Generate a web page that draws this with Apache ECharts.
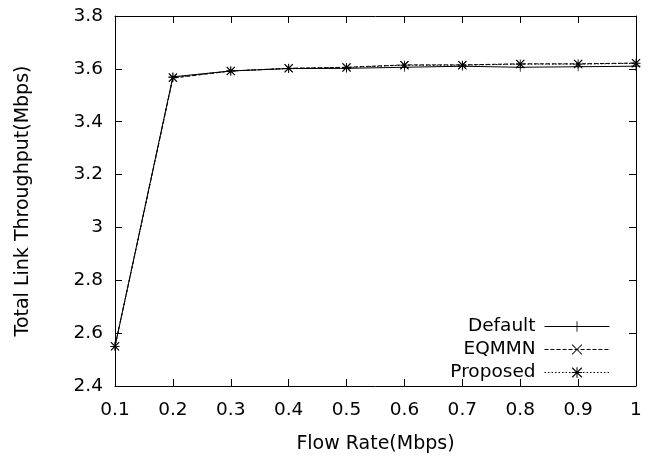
<!DOCTYPE html>
<html>
<head>
<meta charset="utf-8">
<script src="https://cdn.jsdelivr.net/npm/echarts@6/dist/echarts.min.js"></script>
<style>html,body{margin:0;padding:0;background:#fff}#c{width:655px;height:459px}</style>
</head>
<body>
<div id="c"></div>
<script>
var flowRates = [0.1, 0.2, 0.3, 0.4, 0.5, 0.6, 0.7, 0.8, 0.9, 1.0];
var defaultVals  = [2.55, 3.570, 3.592, 3.601, 3.602, 3.606, 3.610, 3.606, 3.608, 3.610];
var eqmmnVals    = [2.55, 3.565, 3.592, 3.602, 3.606, 3.615, 3.615, 3.619, 3.619, 3.622];
var proposedVals = [2.55, 3.567, 3.592, 3.602, 3.605, 3.614, 3.614, 3.618, 3.618, 3.621];

var FONT = 'DejaVu Sans, Liberation Sans, Arial, sans-serif';
var plusPath = 'path://M0,4.6H10V5.4H0Z M4.6,0H5.4V10H4.6Z';
var crossPath = 'path://M0.6,0L5,4.4L9.4,0L10,0.6L5.6,5L10,9.4L9.4,10L5,5.6L0.6,10L0,9.4L4.4,5L0,0.6Z';
var starPath = 'path://M0,4.5H10V5.5H0Z M4.5,0H5.5V10H4.5Z M0.8,0L5,4.2L9.2,0L10,0.8L5.8,5L10,9.2L9.2,10L5,5.8L0.8,10L0,9.2L4.2,5L0,0.8Z';

function pairs(v){ return flowRates.map(function(x,i){ return [x, v[i]]; }); }

var chart = echarts.init(document.getElementById('c'), null, {renderer:'canvas'});
chart.setOption({
  animation: false,
  backgroundColor: '#fff',
  textStyle: {fontFamily: FONT},
  grid: {left: 115, right: 19, top: 16, bottom: 73},
  legend: {
    orient: 'vertical',
    right: 45,
    top: 317,
    padding: 0,
    align: 'right',
    itemWidth: 65,
    itemHeight: 13,
    itemGap: 4,
    lineStyle: {width: 1},
    textStyle: {fontFamily: FONT, fontSize: 18.5, color: '#000', padding: [0, 4, 0, 0]},
    data: ['Default', 'EQMMN', 'Proposed']
  },
  xAxis: [{
    type: 'value', min: 0.1, max: 1, interval: 0.1,
    name: 'Flow Rate(Mbps)', nameLocation: 'middle', nameGap: 49,
    nameTextStyle: {fontFamily: FONT, fontSize: 19, color: '#000'},
    axisLine: {lineStyle: {color: '#000', width: 1}},
    axisTick: {inside: true, length: 7, lineStyle: {color: '#000'}},
    axisLabel: {fontFamily: FONT, fontSize: 18.5, color: '#000', margin: 15,
      formatter: function(v){ return String(Math.round(v*10)/10); }},
    splitLine: {show: false}
  }, {
    type: 'value', min: 0.1, max: 1, interval: 0.1, position: 'top',
    axisLine: {show: true, lineStyle: {color: '#000', width: 1}},
    axisTick: {inside: true, length: 7, lineStyle: {color: '#000'}},
    axisLabel: {show: false}, splitLine: {show: false}
  }],
  yAxis: [{
    type: 'value', min: 2.4, max: 3.8, interval: 0.2,
    name: 'Total Link Throughput(Mbps)', nameLocation: 'middle', nameGap: 82,
    nameTextStyle: {fontFamily: FONT, fontSize: 19, color: '#000'},
    axisLine: {show: true, lineStyle: {color: '#000', width: 1}},
    axisTick: {inside: true, length: 7, lineStyle: {color: '#000'}},
    axisLabel: {fontFamily: FONT, fontSize: 18.5, color: '#000', margin: 12,
      formatter: function(v){ return String(Math.round(v*10)/10); }},
    splitLine: {show: false}
  }, {
    type: 'value', min: 2.4, max: 3.8, interval: 0.2, position: 'right',
    axisLine: {show: true, lineStyle: {color: '#000', width: 1}},
    axisTick: {inside: true, length: 7, lineStyle: {color: '#000'}},
    axisLabel: {show: false}, splitLine: {show: false}
  }],
  series: [{
    name: 'Default', type: 'line', data: pairs(defaultVals),
    symbol: plusPath, symbolSize: 9,
    itemStyle: {color: '#000'},
    lineStyle: {color: '#000', width: 1, type: 'solid'}
  }, {
    name: 'EQMMN', type: 'line', data: pairs(eqmmnVals),
    symbol: crossPath, symbolSize: 8,
    itemStyle: {color: '#000'},
    lineStyle: {color: '#000', width: 1, type: [4, 2]}
  }, {
    name: 'Proposed', type: 'line', data: pairs(proposedVals),
    symbol: starPath, symbolSize: 9,
    itemStyle: {color: '#000'},
    lineStyle: {color: '#000', width: 1, type: [1.5, 2]}
  }]
});
</script>
</body>
</html>
